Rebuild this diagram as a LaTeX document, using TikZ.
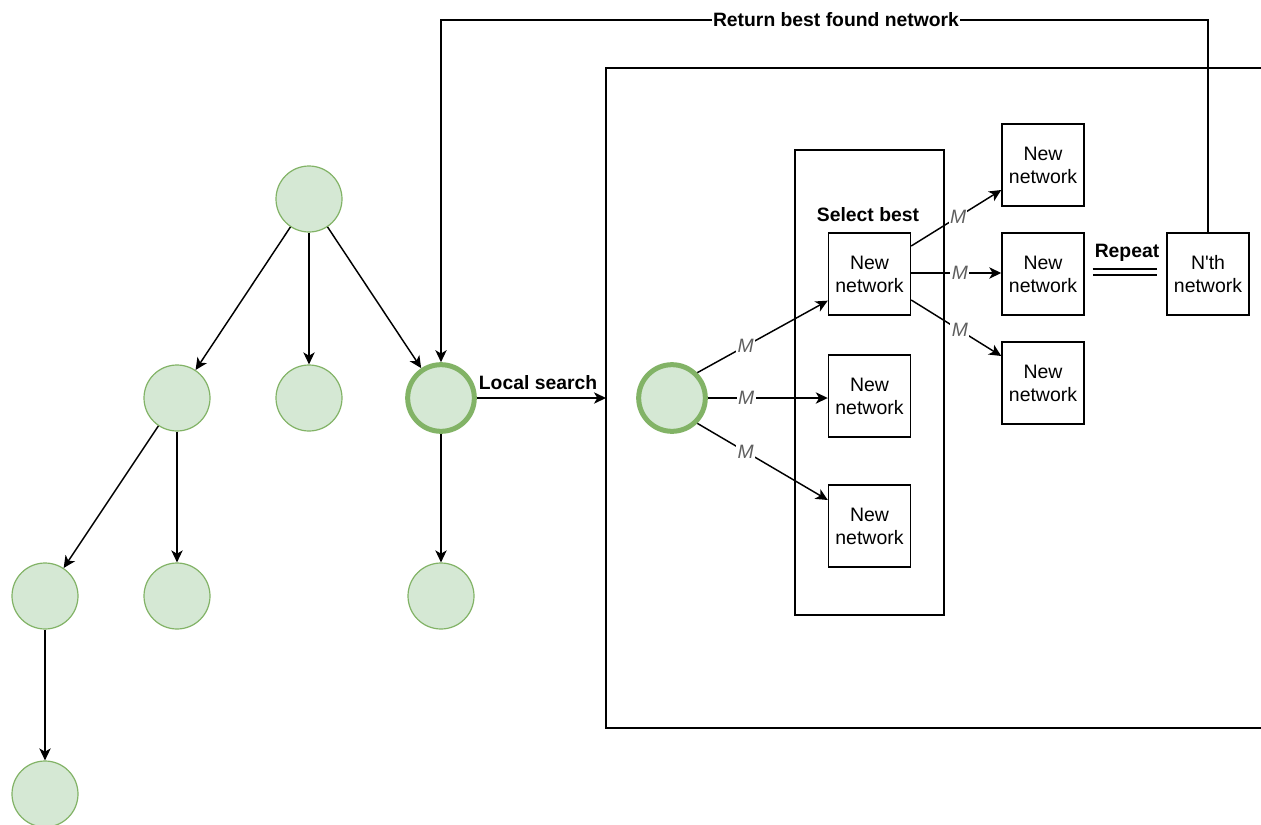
\documentclass[tikz,border=0pt]{standalone}
\usepackage{fontspec}
\setmainfont{Liberation Sans}
\usetikzlibrary{arrows.meta}
\definecolor{nodefill}{HTML}{D5E8D4}
\definecolor{nodeline}{HTML}{82B366}
\definecolor{mgray}{HTML}{5F5F5F}
\begin{document}
\begin{tikzpicture}[x=0.75pt,y=-0.75pt,
  every node/.style={font=\fontsize{14.6}{17.25}\selectfont, text=black},
  tnode/.style={circle, draw=nodeline, fill=nodefill, line width=0.9pt,
    minimum size=49.5pt, inner sep=0pt},
  hnode/.style={tnode, line width=3.75pt, minimum size=50pt},
  netbox/.style={draw, line width=1.1pt, minimum width=61.5pt,
    minimum height=61.5pt, inner sep=0pt, align=center},
  arr/.style={draw, line width=1.1pt,
    -{Stealth[length=9pt,width=8.5pt,inset=2.5pt]}},
  plain/.style={draw, line width=1.1pt},
  lbl/.style={font=\bfseries\fontsize{14.5}{17}\selectfont, inner sep=1pt},
  mlbl/.style={font=\itshape\fontsize{14.5}{17}\selectfont, text=mgray,
    fill=white, inner sep=1pt}]
\useasboundingbox (0,0) rectangle (1261,825);

% search tree
\node[tnode] (r)  at (309,199) {};
\node[tnode] (a)  at (177,398) {};
\node[tnode] (b)  at (309,398) {};
\node[hnode] (c)  at (441,398) {};
\node[tnode] (a1) at (45,596) {};
\node[tnode] (a2) at (177,596) {};
\node[tnode] (c1) at (441,596) {};
\node[tnode] (a11) at (45,794) {};

\draw[arr] (r) -- (a);
\draw[arr] (r) -- (b);
\draw[arr] (r) -- (c);
\draw[arr] (a) -- (a1);
\draw[arr] (a) -- (a2);
\draw[arr] (c) -- (c1);
\draw[arr] (a1) -- (a11);

% local search frame
\coordinate (fr1) at (1261,68);
\coordinate (fr2) at (606,68);
\coordinate (fr3) at (606,728);
\coordinate (fr4) at (1261,728);
\draw[plain] (fr1) -- (fr2) -- (fr3) -- (fr4);

\coordinate (lsin) at (606,398);
\draw[arr] (c.east) -- (lsin);
\node[lbl] (lslbl) at (538,383) {Local search};

% selection column
\node[draw, line width=1.1pt, minimum width=111.75pt, minimum height=348.75pt,
  inner sep=0pt] (sel) at (869.5,382.5) {};
\node[lbl] (sellbl) at (868,215) {Select best};

\node[hnode] (s) at (672,398) {};
\node[netbox] (A) at (869.5,274) {New\\network};
\node[netbox] (B) at (869.5,396) {New\\network};
\node[netbox] (C) at (869.5,526) {New\\network};
\node[netbox] (D) at (1043,165) {New\\network};
\node[netbox] (E) at (1043,274) {New\\network};
\node[netbox] (F) at (1043,383) {New\\network};
\node[netbox] (N) at (1208,274) {N\textquotesingle th\\network};

\draw[arr] (s.45) -- node[mlbl, pos=0.37] {M} ([yshift=-20pt]A.west);
\draw[arr] (s.east) -- node[mlbl, pos=0.32] {M} ([yshift=-1.5pt]B.west);
\draw[arr] (s.-45) -- node[mlbl, pos=0.37] {M} ([yshift=19.5pt]C.west);

\draw[arr] ([yshift=21pt]A.east) -- node[mlbl, pos=0.52] {M} ([yshift=-18.75pt]D.west);
\draw[arr] ([yshift=0.75pt]A.east) -- node[mlbl, pos=0.54] {M} ([yshift=0.75pt]E.west);
\draw[arr] ([yshift=-19.5pt]A.east) -- node[mlbl, pos=0.54] {M} ([yshift=20.25pt]F.west);

% repetition
\draw[line width=1pt, double, double distance=3.5pt]
  ([xshift=6pt,yshift=1.5pt]E.east) -- ([xshift=-6.75pt,yshift=1.5pt]N.west);
\node[lbl] (rep) at (1127,253) {Repeat};

% feedback to the tree
\coordinate (top) at (1208,20);
\draw[arr] (N.north) -- (top) -| (c.north);
\node[lbl, fill=white] (ret) at (836,20) {Return best found network};
\end{tikzpicture}
\end{document}
